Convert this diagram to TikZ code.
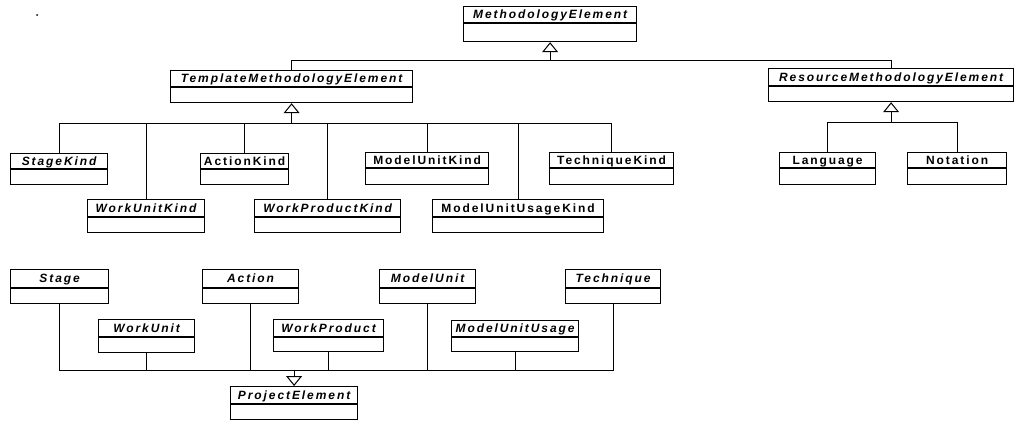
\documentclass[tikz,border=0pt]{standalone}
\usepackage{fontspec}
\usetikzlibrary{arrows.meta}
\newfontfamily\umlfont[LetterSpace=16]{Liberation Sans}

\tikzset{
  cls/.style={draw, line width=1.2pt, anchor=north west, inner sep=0pt},
  bar/.style={line width=1.2pt},
  ttl/.style={font=\umlfont\fontsize{12pt}{14pt}\selectfont\bfseries, inner sep=0pt, text height=8.6pt, text depth=0pt},
  attl/.style={font=\umlfont\fontsize{12pt}{14pt}\selectfont\bfseries\itshape, inner sep=0pt, text height=8.6pt, text depth=0pt},
  conn/.style={line width=1pt},
  gen/.style={line width=1pt, -{Triangle[open, width=16pt, length=10pt]}}
}

\begin{document}
\begin{tikzpicture}[x=1pt, y=-1pt]
\useasboundingbox (0,0) rectangle (1018,423);

\fill (37,15) circle (1pt);

% methodology side
\node[cls, minimum width=173pt, minimum height=35pt] (me) at (463,6) {};
\draw[bar] ([yshift=-17pt]me.north west) -- ([yshift=-17pt]me.north east);
\node[attl] (meT) at ([yshift=-8.5pt]me.north) {MethodologyElement};

\node[cls, minimum width=242pt, minimum height=32pt] (tme) at (170,70) {};
\draw[bar] ([yshift=-17pt]tme.north west) -- ([yshift=-17pt]tme.north east);
\node[attl] (tmeT) at ([yshift=-8.5pt]tme.north) {TemplateMethodologyElement};

\node[cls, minimum width=245pt, minimum height=33pt] (rme) at (768,68) {};
\draw[bar] ([yshift=-18pt]rme.north west) -- ([yshift=-18pt]rme.north east);
\node[attl] (rmeT) at ([yshift=-9pt]rme.north) {ResourceMethodologyElement};


\node[cls, minimum width=97pt, minimum height=31pt] (stagekind) at (10,153) {};
\draw[bar] ([yshift=-16pt]stagekind.north west) -- ([yshift=-16pt]stagekind.north east);
\node[attl] (stagekindT) at ([yshift=-8pt]stagekind.north) {StageKind};

\node[cls, minimum width=117pt, minimum height=33pt] (workunitkind) at (87,199) {};
\draw[bar] ([yshift=-18pt]workunitkind.north west) -- ([yshift=-18pt]workunitkind.north east);
\node[attl] (workunitkindT) at ([yshift=-9pt]workunitkind.north) {WorkUnitKind};

\node[cls, minimum width=88pt, minimum height=31pt] (actionkind) at (200,153) {};
\draw[bar] ([yshift=-16pt]actionkind.north west) -- ([yshift=-16pt]actionkind.north east);
\node[ttl] (actionkindT) at ([yshift=-8pt]actionkind.north) {ActionKind};

\node[cls, minimum width=146pt, minimum height=33pt] (workproductkind) at (254,199) {};
\draw[bar] ([yshift=-18pt]workproductkind.north west) -- ([yshift=-18pt]workproductkind.north east);
\node[attl] (workproductkindT) at ([yshift=-9pt]workproductkind.north) {WorkProductKind};

\node[cls, minimum width=123pt, minimum height=32pt] (modelunitkind) at (365,152) {};
\draw[bar] ([yshift=-16pt]modelunitkind.north west) -- ([yshift=-16pt]modelunitkind.north east);
\node[ttl] (modelunitkindT) at ([yshift=-8pt]modelunitkind.north) {ModelUnitKind};

\node[cls, minimum width=171pt, minimum height=33pt] (modelunitusagekind) at (432,199) {};
\draw[bar] ([yshift=-18pt]modelunitusagekind.north west) -- ([yshift=-18pt]modelunitusagekind.north east);
\node[ttl] (modelunitusagekindT) at ([yshift=-9pt]modelunitusagekind.north) {ModelUnitUsageKind};

\node[cls, minimum width=124pt, minimum height=32pt] (techniquekind) at (549,152) {};
\draw[bar] ([yshift=-16pt]techniquekind.north west) -- ([yshift=-16pt]techniquekind.north east);
\node[ttl] (techniquekindT) at ([yshift=-8pt]techniquekind.north) {TechniqueKind};

\node[cls, minimum width=96pt, minimum height=32pt] (language) at (779,152) {};
\draw[bar] ([yshift=-16pt]language.north west) -- ([yshift=-16pt]language.north east);
\node[ttl] (languageT) at ([yshift=-8pt]language.north) {Language};

\node[cls, minimum width=99pt, minimum height=32pt] (notation) at (907,152) {};
\draw[bar] ([yshift=-16pt]notation.north west) -- ([yshift=-16pt]notation.north east);
\node[ttl] (notationT) at ([yshift=-8pt]notation.north) {Notation};

% project side
\node[cls, minimum width=98pt, minimum height=34pt] (stage) at (10,269) {};
\draw[bar] ([yshift=-19pt]stage.north west) -- ([yshift=-19pt]stage.north east);
\node[attl] (stageT) at ([yshift=-9.5pt]stage.north) {Stage};

\node[cls, minimum width=96pt, minimum height=33pt] (workunit) at (98,319) {};
\draw[bar] ([yshift=-18pt]workunit.north west) -- ([yshift=-18pt]workunit.north east);
\node[attl] (workunitT) at ([yshift=-9pt]workunit.north) {WorkUnit};

\node[cls, minimum width=96pt, minimum height=34pt] (action) at (202,269) {};
\draw[bar] ([yshift=-19pt]action.north west) -- ([yshift=-19pt]action.north east);
\node[attl] (actionT) at ([yshift=-9.5pt]action.north) {Action};

\node[cls, minimum width=110pt, minimum height=32pt] (workproduct) at (273,319) {};
\draw[bar] ([yshift=-18pt]workproduct.north west) -- ([yshift=-18pt]workproduct.north east);
\node[attl] (workproductT) at ([yshift=-9pt]workproduct.north) {WorkProduct};

\node[cls, minimum width=96pt, minimum height=34pt] (modelunit) at (379,269) {};
\draw[bar] ([yshift=-19pt]modelunit.north west) -- ([yshift=-19pt]modelunit.north east);
\node[attl] (modelunitT) at ([yshift=-9.5pt]modelunit.north) {ModelUnit};

\node[cls, minimum width=127pt, minimum height=31pt] (modelunitusage) at (451,320) {};
\draw[bar] ([yshift=-17pt]modelunitusage.north west) -- ([yshift=-17pt]modelunitusage.north east);
\node[attl] (modelunitusageT) at ([yshift=-8.5pt]modelunitusage.north) {ModelUnitUsage};

\node[cls, minimum width=95pt, minimum height=34pt] (technique) at (565,269) {};
\draw[bar] ([yshift=-19pt]technique.north west) -- ([yshift=-19pt]technique.north east);
\node[attl] (techniqueT) at ([yshift=-9.5pt]technique.north) {Technique};

\node[cls, minimum width=127pt, minimum height=33pt] (pe) at (230,386) {};
\draw[bar] ([yshift=-18pt]pe.north west) -- ([yshift=-18pt]pe.north east);
\node[attl] (peT) at ([yshift=-9pt]pe.north) {ProjectElement};

% generalisations
\coordinate (meJ) at (me.south |- 0,60);
\coordinate (tmeJ) at (tme.south |- 0,123);
\coordinate (rmeJ) at (rme.south |- 0,122);
\coordinate (peJ) at (pe.north |- 0,370);

\draw[conn] (tme.north) |- (meJ);
\draw[conn] (rme.north) |- (meJ);
\draw[gen] (meJ) -- (me.south);

\draw[conn] (stagekind.north) |- (tmeJ);
\draw[conn] (workunitkind.north) |- (tmeJ);
\draw[conn] (actionkind.north) |- (tmeJ);
\draw[conn] (workproductkind.north) |- (tmeJ);
\draw[conn] (modelunitkind.north) |- (tmeJ);
\draw[conn] (modelunitusagekind.north) |- (tmeJ);
\draw[conn] (techniquekind.north) |- (tmeJ);
\draw[gen] (tmeJ) -- (tme.south);

\draw[conn] (language.north) |- (rmeJ);
\draw[conn] (notation.north) |- (rmeJ);
\draw[gen] (rmeJ) -- (rme.south);

\draw[conn] (stage.south) |- (peJ);
\draw[conn] (workunit.south) |- (peJ);
\draw[conn] (action.south) |- (peJ);
\draw[conn] (workproduct.south) |- (peJ);
\draw[conn] (modelunit.south) |- (peJ);
\draw[conn] (modelunitusage.south) |- (peJ);
\draw[conn] (technique.south) |- (peJ);
\draw[gen] (peJ) -- (pe.north);

\end{tikzpicture}
\end{document}
